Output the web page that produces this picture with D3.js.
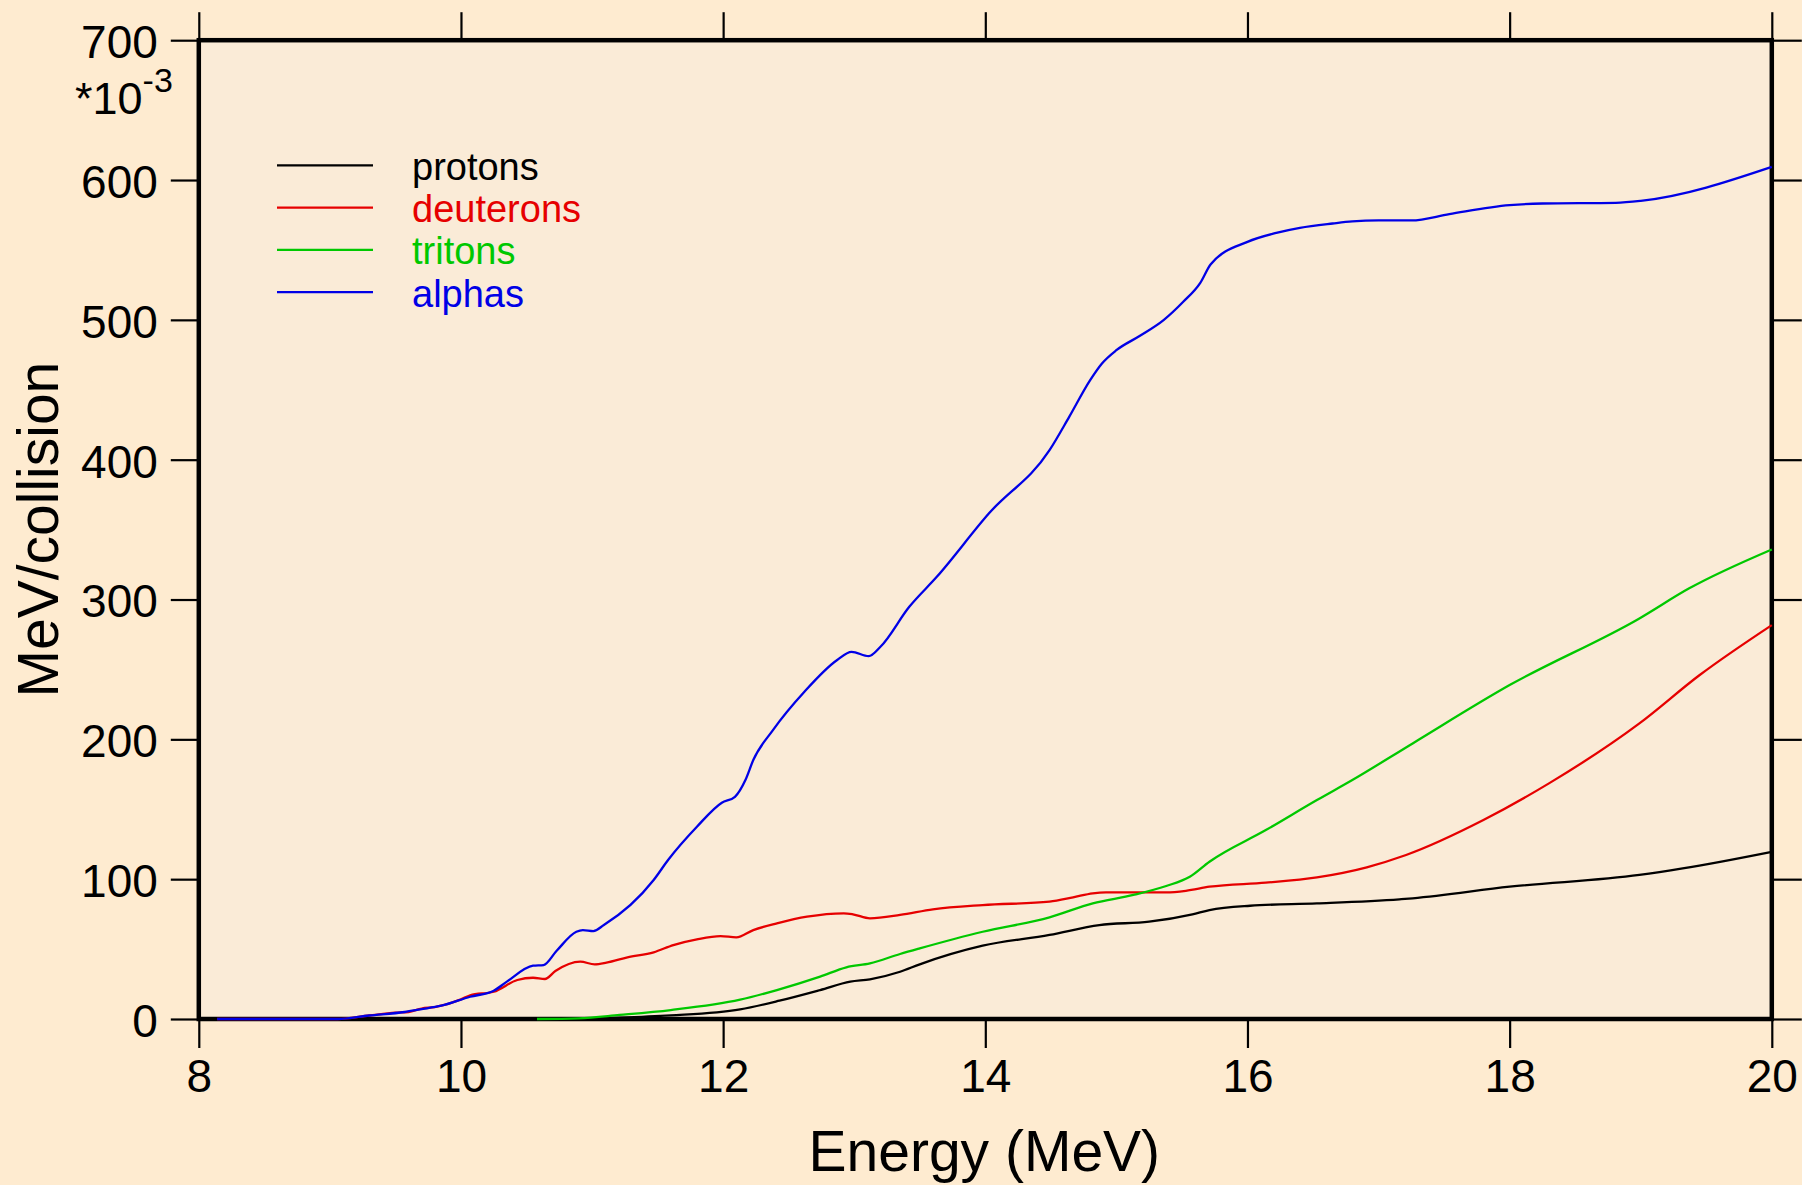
<!DOCTYPE html>
<html>
<head>
<meta charset="utf-8">
<script src="https://cdn.jsdelivr.net/npm/d3@7"></script>
<style>
  html, body { margin: 0; padding: 0; background: #feebd0; }
  svg { display: block; }
  text { font-family: "Liberation Sans", Arial, sans-serif; }
</style>
</head>
<body>
<svg id="chart" width="1802" height="1185"></svg>
<script>
// ---- data (MeV, MeV/collision x 1e-3) ----
const xTicks = [8, 10, 12, 14, 16, 18, 20];
const yTicks = [0, 100, 200, 300, 400, 500, 600, 700];
const seriesNames = ["protons", "deuterons", "tritons", "alphas"];
const seriesColors = ["#000000", "#e60000", "#00c800", "#0000e6"];

const protons = [
  [10.6, 0], [11.2, 1], [11.6, 2.6], [12.13, 6.9], [12.43, 13.1], [12.74, 20.7],
  [12.97, 26.7], [13.12, 28.4], [13.35, 33.8], [13.5, 39.1], [13.98, 52.4],
  [14.49, 60.1], [14.87, 67.2], [15.25, 69.6], [15.58, 74.9], [15.71, 77.9],
  [16.02, 81.0], [16.53, 82.7], [17.16, 85.6], [17.26, 86.3], [18.0, 94.6],
  [18.99, 103.0], [19.32, 107.7], [20.0, 119.6]
];
const deuterons = [
  [8.14, 0], [9.06, 0], [9.3, 2.5], [9.5, 4.5], [9.6, 5], [9.7, 7.5], [9.8, 8.5],
  [10.0, 14], [10.07, 17], [10.25, 19.5], [10.43, 27.9], [10.55, 29.5],
  [10.64, 28.6], [10.72, 34.3], [10.91, 41.0], [11.02, 39.1], [11.11, 40.3],
  [11.27, 44.1], [11.47, 47.7], [11.62, 52.9], [11.8, 57.0], [11.98, 59.3],
  [12.1, 58.4], [12.23, 63.6], [12.41, 68.4], [12.64, 73.2], [12.92, 75.6],
  [12.99, 74.9], [13.12, 72.0], [13.35, 74.4], [13.6, 78.4], [13.98, 81.5],
  [14.49, 83.9], [14.67, 87.0], [14.82, 89.9], [14.92, 90.6], [15.38, 90.6],
  [15.53, 91.7], [15.71, 94.6], [16.14, 97.5], [16.53, 101.3], [16.91, 108.5],
  [17.21, 117.3], [17.8, 142.3], [18.3, 168.5], [18.99, 211.4], [19.45, 246],
  [20.0, 281.7]
];
const tritons = [
  [10.58, 0], [10.9, 0.5], [11.21, 2.9], [11.6, 6.4], [12.13, 13.8], [12.41, 20.7],
  [12.74, 30.3], [12.94, 37.0], [13.12, 39.8], [13.35, 46.5], [13.5, 50.5],
  [13.98, 62.4], [14.49, 72.7], [14.82, 82.7], [15.13, 88.7], [15.38, 95.1],
  [15.56, 101.7], [15.71, 112.5], [16.14, 135.1], [16.53, 156.6], [16.8, 170.9],
  [17.26, 197.1], [18.0, 238.8], [18.99, 286.5], [19.37, 308.0], [20.0, 335.8]
];
const alphas = [
  [8.14, 0], [9.06, 0], [9.3, 2.5], [9.57, 5], [9.69, 6.9], [9.85, 9.5],
  [10.07, 15.9], [10.25, 20.2], [10.35, 26.7], [10.55, 38.1], [10.63, 38.6],
  [10.73, 48.8], [10.88, 62.4], [10.93, 63.6], [11.01, 62.9], [11.09, 67.2],
  [11.47, 99.4], [11.58, 113.7], [11.8, 137.5], [11.99, 154.7], [12.09, 158.9],
  [12.17, 170.9], [12.23, 185.2], [12.38, 206.6], [12.62, 234.0], [12.87, 256.7],
  [12.98, 262.6], [13.11, 259.5], [13.2, 266.2], [13.42, 294.8], [13.63, 316.2],
  [14.03, 361.8], [14.49, 406.8], [14.64, 430.6], [14.8, 456.9], [14.89, 468.8],
  [15.0, 478.3], [15.18, 488.6], [15.36, 499.8], [15.51, 512.9], [15.64, 526.5],
  [15.72, 539.8], [16.0, 555.8], [16.22, 562.2], [16.4, 565.8], [16.65, 568.9],
  [16.8, 570.4], [17.0, 571.1], [17.25, 571.1], [17.54, 575.6], [18.0, 582.0],
  [18.25, 583.2], [18.81, 583.7], [19.0, 585.1], [20.0, 609.4]
];
const allSeries = [protons, deuterons, tritons, alphas];

// ---- layout ----
const L = 198.8, R = 1771.8, T = 40.2, B = 1019;
const svg = d3.select("#chart");
const x = d3.scaleLinear().domain([8, 20]).range([L, R]);
const y = d3.scaleLinear().domain([0, 700]).range([B, T]);

svg.append("rect").attr("width", 1802).attr("height", 1185).attr("fill", "#feebd0");
svg.append("rect").attr("x", L).attr("y", T).attr("width", R - L).attr("height", B - T)
  .attr("fill", "#faebd7");

// axes with d3 (outer ticks)
const tickLen = 28;
function styleAxis(g) {
  g.select(".domain").remove();
  g.selectAll(".tick line").attr("stroke", "#000").attr("stroke-width", 2.2);
}
const axL = svg.append("g").attr("transform", `translate(${L},0)`)
  .call(d3.axisLeft(y).tickValues(yTicks).tickSize(tickLen).tickPadding(13).tickFormat(d3.format("d")));
styleAxis(axL);
axL.selectAll(".tick text").attr("font-size", 46).attr("fill", "#000")
  .attr("font-family", "Liberation Sans, Arial, sans-serif").attr("dy", "0.38em");

const axR = svg.append("g").attr("transform", `translate(${R},0)`)
  .call(d3.axisRight(y).tickValues(yTicks).tickSize(tickLen + 2).tickFormat(""));
styleAxis(axR);

const axB = svg.append("g").attr("transform", `translate(0,${B})`)
  .call(d3.axisBottom(x).tickValues(xTicks).tickSize(tickLen + 1).tickPadding(11).tickFormat(d3.format("d")));
styleAxis(axB);
axB.selectAll(".tick text").attr("font-size", 46).attr("fill", "#000")
  .attr("font-family", "Liberation Sans, Arial, sans-serif");

const axT = svg.append("g").attr("transform", `translate(0,${T})`)
  .call(d3.axisTop(x).tickValues(xTicks).tickSize(tickLen).tickFormat(""));
styleAxis(axT);

// frame
svg.append("rect").attr("x", L).attr("y", T).attr("width", R - L).attr("height", B - T)
  .attr("fill", "none").attr("stroke", "#000").attr("stroke-width", 4.5);

// exponent label
const ex = svg.append("text").attr("x", 75).attr("y", 114).attr("font-size", 45).attr("fill", "#000");
ex.append("tspan").text("*10");
ex.append("tspan").attr("font-size", 34).attr("dy", -22).text("-3");

// lines
const line = d3.line().x(d => x(d[0])).y(d => y(d[1])).curve(d3.curveMonotoneX);
allSeries.forEach((s, i) => {
  svg.append("path").datum(s).attr("d", line).attr("fill", "none")
    .attr("stroke", seriesColors[i]).attr("stroke-width", 2.3).attr("stroke-linejoin", "round");
});

// legend
const legY0 = 165.3, legDy = 42.3;
seriesNames.forEach((n, i) => {
  const yy = legY0 + i * legDy;
  svg.append("line").attr("x1", 277).attr("x2", 373).attr("y1", yy).attr("y2", yy)
    .attr("stroke", seriesColors[i]).attr("stroke-width", 2.3);
  svg.append("text").attr("x", 412).attr("y", yy + 14.5).attr("font-size", 38)
    .attr("fill", seriesColors[i]).text(n);
});

// axis titles
svg.append("text").attr("x", (L + R) / 2 - 1).attr("y", 1171).attr("text-anchor", "middle")
  .attr("font-size", 57).attr("fill", "#000").text("Energy (MeV)");
svg.append("text").attr("transform", `translate(58,${(T + B) / 2}) rotate(-90)`)
  .attr("text-anchor", "middle").attr("font-size", 57).attr("fill", "#000").text("MeV/collision");
</script>
</body>
</html>
